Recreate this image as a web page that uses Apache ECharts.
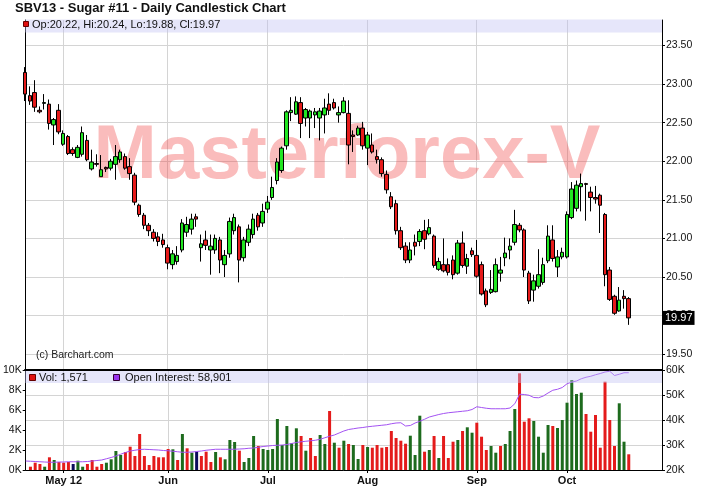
<!DOCTYPE html>
<html><head><meta charset="utf-8">
<script src="https://cdn.jsdelivr.net/npm/echarts/dist/echarts.min.js"></script>
<style>html,body{margin:0;padding:0;background:#fff}#c{width:702px;height:491px}</style>
</head><body><div id="c"></div>
<script>
const FONT = '"Liberation Sans", Arial, sans-serif';
const chartTitle = 'SBV13 - Sugar #11 - Daily Candlestick Chart';
const watermarkText = 'Masterforex-V';
const copyrightText = '(c) Barchart.com';
const monthNames = ['Jan','Feb','Mar','Apr','May','Jun','Jul','Aug','Sep','Oct','Nov','Dec'];
const firstDay = '2012-04-19';
const holidays = ['2012-05-28','2012-07-04','2012-09-03'];
const slotCount = 135;

const opens = [23.15,22.85,22.89,22.66,22.75,22.74,22.47,22.66,22.22,22.32,
 22.15,22.05,22.09,22.27,21.90,21.97,21.80,21.92,21.91,21.96,
 22.02,22.06,21.93,21.82,21.43,21.30,21.17,21.08,21.02,20.98,
 20.88,20.66,20.70,20.85,21.08,21.12,21.28,20.88,20.98,20.85,
 20.85,20.98,20.66,20.80,21.10,21.15,20.75,20.95,21.05,21.30,
 21.20,21.38,21.53,21.75,21.88,22.20,22.63,22.61,22.76,22.56,
 22.56,22.60,22.56,22.60,22.74,22.76,22.60,22.63,22.62,22.34,
 22.34,22.43,22.17,22.21,22.06,22.02,21.83,21.54,21.45,21.10,
 20.90,20.72,20.95,20.96,21.10,21.06,21.03,20.60,20.66,20.66,
 20.72,20.55,20.94,20.64,20.84,20.78,20.66,20.32,20.30,20.31,
 20.55,20.75,20.85,20.95,21.17,21.11,20.55,20.33,20.38,20.43,
 20.71,20.98,20.63,20.76,20.76,21.27,21.39,21.67,21.71,21.60,
 21.53,21.56,21.31,20.59,20.25,20.06,20.25,20.22];
const highs = [23.22,22.97,23.05,22.71,22.87,22.80,22.56,22.74,22.40,22.34,
 22.18,22.21,22.45,22.34,22.15,22.09,22.08,21.93,22.03,22.21,
 22.15,22.10,22.04,21.85,21.45,21.33,21.20,21.12,21.08,21.06,
 20.92,20.85,20.90,21.25,21.28,21.32,21.32,21.05,21.10,21.05,
 21.05,21.02,20.85,21.27,21.32,21.18,21.02,21.18,21.32,21.33,
 21.45,21.55,21.80,22.04,22.19,22.66,22.83,22.84,22.83,22.69,
 22.67,22.69,22.69,22.81,22.88,22.81,22.71,22.83,22.79,22.40,
 22.46,22.51,22.38,22.36,22.15,22.05,21.88,21.60,21.50,21.15,
 20.95,20.95,21.05,21.12,21.24,21.25,21.05,20.75,21.00,20.74,
 20.78,20.98,21.09,20.80,20.88,20.98,20.70,20.35,20.59,20.74,
 20.76,21.01,21.00,21.37,21.20,21.13,20.58,20.53,20.86,20.75,
 21.17,21.17,20.85,20.88,21.35,21.73,21.75,21.84,21.72,21.67,
 21.68,21.58,21.33,20.63,20.27,20.37,20.33,20.24];
const lows = [22.78,22.73,22.64,22.62,22.67,22.41,22.21,22.35,22.20,22.08,
 22.07,22.04,22.06,22.00,21.88,21.93,21.80,21.86,21.88,21.76,
 21.98,21.89,21.76,21.43,21.28,21.12,21.03,20.96,20.90,20.88,
 20.60,20.60,20.66,20.82,21.02,21.05,21.15,20.70,20.85,20.53,
 20.80,20.55,20.50,20.75,21.05,20.43,20.70,20.90,21.00,21.10,
 21.15,21.33,21.50,21.70,21.85,22.15,22.52,22.60,22.30,22.45,
 22.30,22.43,22.27,22.36,22.60,22.67,22.50,22.62,21.96,22.12,
 22.33,22.15,21.95,22.10,21.97,21.80,21.58,21.38,21.05,20.85,
 20.68,20.68,20.78,20.90,20.86,21.04,20.62,20.58,20.56,20.52,
 20.47,20.53,20.62,20.54,20.76,20.49,20.26,20.11,20.28,20.30,
 20.44,20.64,20.73,20.91,21.08,20.50,20.15,20.18,20.35,20.40,
 20.68,20.70,20.50,20.73,20.74,21.25,21.35,21.35,21.23,21.35,
 21.45,21.07,20.38,20.19,20.01,20.05,20.09,19.88];
const closes = [22.87,22.78,22.70,22.64,22.76,22.49,22.54,22.38,22.36,22.10,
 22.10,22.18,22.37,22.02,21.99,21.96,21.89,21.90,22.00,22.06,
 22.12,21.91,21.84,21.47,21.31,21.17,21.10,21.00,20.96,20.92,
 20.68,20.80,20.78,21.20,21.18,21.25,21.25,20.93,20.91,20.90,
 21.00,20.72,20.78,21.22,21.27,20.72,20.98,21.12,21.25,21.15,
 21.35,21.47,21.66,21.99,22.17,22.64,22.66,22.77,22.49,22.67,
 22.65,22.64,22.65,22.69,22.66,22.69,22.63,22.78,22.21,22.32,
 22.43,22.20,22.34,22.12,22.02,21.84,21.63,21.41,21.10,20.88,
 20.72,20.85,20.90,21.09,20.99,21.14,20.65,20.70,20.58,20.56,
 20.53,20.94,20.65,20.74,20.79,20.51,20.28,20.14,20.34,20.66,
 20.59,20.81,20.90,21.18,21.11,20.59,20.19,20.45,20.53,20.66,
 21.03,20.74,20.76,20.82,21.31,21.64,21.69,21.71,21.70,21.53,
 21.51,21.43,20.53,20.21,20.03,20.20,20.22,19.97];
const volumes = [null,330,730,600,330,1270,1000,800,730,800,
 600,930,330,600,1000,330,600,730,1070,1900,
 1500,1800,2330,1400,3600,1400,500,1400,1270,1270,
 2100,2070,1000,3600,2170,1730,1830,1400,1830,800,
 1800,1270,1070,3000,2800,1930,800,1200,3400,2400,
 2100,2000,2100,5100,2500,4400,2670,4170,3400,1930,
 3200,1400,3500,2600,5900,2730,2230,2930,2600,2500,
 1100,2500,2300,2230,2500,2230,2300,3900,3200,2930,
 2630,3430,1500,5430,1830,2000,3400,1200,3400,1200,
 2830,3000,3900,4270,3730,4730,3330,2000,2400,1730,
 2400,2600,3900,6100,9670,4830,5170,4900,3330,1730,
 4500,4400,4200,5000,6730,9000,7600,7730,5600,3830,
 5500,2230,8830,5000,2400,6670,2830,1571];
const openInterest = [23600,23500,23400,23300,23200,23100,23100,23200,23200,23300,
 23300,23300,23300,23400,23600,23800,24000,24500,25000,25600,
 26300,27000,27600,27900,28200,28300,28200,28100,28000,27800,
 27700,27500,27300,27100,27100,27200,27400,27600,27900,28100,
 28300,28300,28300,28300,28300,28400,28500,28700,28800,29100,
 29400,29600,29800,29900,30000,30200,30600,31000,31300,31500,
 31700,31900,32300,32900,33500,34000,34800,35600,36200,36500,
 36800,37000,37300,37500,37700,37900,38100,38500,38800,38900,
 37600,37800,38800,39500,40300,41200,41700,42200,42600,42900,
 43100,43300,43500,43700,44200,45300,45000,44700,44500,44500,
 44500,44500,44800,46500,50300,50200,49900,49000,48900,49600,
 50800,51900,52300,53000,54500,55200,55600,56500,57100,57500,
 58100,58600,59200,59500,57800,58300,58900,58901];

function pad(n){return n<10?'0'+n:''+n;}
const dates = [];
(function(){
  let d = new Date(firstDay + 'T00:00:00Z');
  while (dates.length < slotCount) {
    const s = d.getUTCFullYear()+'-'+pad(d.getUTCMonth()+1)+'-'+pad(d.getUTCDate());
    const wd = d.getUTCDay();
    if (wd !== 0 && wd !== 6 && holidays.indexOf(s) < 0) dates.push(s);
    d = new Date(d.getTime() + 86400000);
  }
})();
const monthStart = dates.map((s,i)=> i>0 && s.slice(5,7) !== dates[i-1].slice(5,7));
const firstLabelIdx = monthStart.indexOf(true);
function tickLabel(i){
  const s = dates[i]; const m = monthNames[+s.slice(5,7)-1];
  return i === firstLabelIdx ? m + ' ' + s.slice(2,4) : m;
}
const UP = '#1d6b1d', DOWN = '#e41b1b', FLAT = '#0b0b5c';
const candleData = opens.map((o,i)=>[o, closes[i], lows[i], highs[i]]);
const volData = volumes.map((v,i)=>{
  if (v == null) return null;
  const c = i===0 ? DOWN : (closes[i] > closes[i-1] ? UP : (closes[i] < closes[i-1] ? DOWN : FLAT));
  return {value: v, itemStyle: {color: c}};
});
const n = closes.length - 1;
const fmtNum = v => v.toLocaleString('en-US');
const priceLegend = 'Op:' + opens[n].toFixed(2) + ', Hi:' + highs[n].toFixed(2) + ', Lo:' + lows[n].toFixed(2) + ', Cl:' + closes[n].toFixed(2);
const volLegend = 'Vol: ' + fmtNum(volumes[n]);
const oiLegend = 'Open Interest: ' + fmtNum(openInterest[n]);

const GRID = '#d4d4d4';
const labelStyle = {fontFamily: FONT, fontSize: 10.5, color: '#111'};
const chart = echarts.init(document.getElementById('c'), null, {renderer: 'canvas'});
chart.setOption({
  animation: false,
  backgroundColor: '#fff',
  grid: [
    {left: 25, right: 40, top: 20, height: 350},
    {left: 25, right: 40, top: 370, height: 100}
  ],
  xAxis: [
    {type: 'category', gridIndex: 0, data: dates, boundaryGap: false,
     axisLine: {show: true, lineStyle: {color: '#000', width: 2}},
     axisTick: {show: false}, axisLabel: {show: false},
     splitLine: {show: true, interval: (i)=>monthStart[i], lineStyle: {color: GRID}}},
    {type: 'category', gridIndex: 1, data: dates, boundaryGap: false,
     axisLine: {show: true, lineStyle: {color: '#000', width: 1}},
     axisTick: {show: true, interval: (i)=>monthStart[i], length: 3, lineStyle: {color: '#000'}},
     axisLabel: {interval: (i)=>monthStart[i], formatter: (v,i)=>tickLabel(i),
       fontFamily: FONT, fontSize: 11, fontWeight: 'bold', color: '#111', margin: 5},
     splitLine: {show: true, interval: (i)=>monthStart[i], lineStyle: {color: GRID}}}
  ],
  yAxis: [
    {type: 'value', gridIndex: 0, position: 'right', min: 19.295, max: 23.83,
     splitNumber: 9, minInterval: 0.5, maxInterval: 0.5,
     axisLine: {show: true, lineStyle: {color: '#000'}},
     axisTick: {show: true, length: 3, lineStyle: {color: '#000'}},
     axisLabel: Object.assign({formatter: v => v.toFixed(2), showMinLabel: false, showMaxLabel: false, margin: 4}, labelStyle),
     splitLine: {show: true, showMinLine: false, showMaxLine: false, lineStyle: {color: GRID}}},
    {type: 'value', gridIndex: 0, position: 'left', min: 19.295, max: 23.83,
     axisLine: {show: true, lineStyle: {color: '#000'}},
     axisTick: {show: false}, axisLabel: {show: false}, splitLine: {show: false}},
    {type: 'value', gridIndex: 1, position: 'left', min: 0, max: 10000, interval: 2000,
     axisLine: {show: true, lineStyle: {color: '#000'}},
     axisTick: {show: true, length: 3, lineStyle: {color: '#000'}},
     axisLabel: Object.assign({formatter: v => (v/1000) + 'K', margin: 4}, labelStyle),
     splitLine: {show: false}},
    {type: 'value', gridIndex: 1, position: 'right', min: 20000, max: 60000, interval: 10000,
     axisLine: {show: true, lineStyle: {color: '#000'}},
     axisTick: {show: true, length: 3, lineStyle: {color: '#000'}},
     axisLabel: Object.assign({formatter: v => (v/1000) + 'K', margin: 4}, labelStyle),
     splitLine: {show: true, showMinLine: false, showMaxLine: false, lineStyle: {color: GRID}}}
  ],
  series: [
    {type: 'candlestick', xAxisIndex: 0, yAxisIndex: 0, data: candleData, barWidth: 4, clip: false,
     itemStyle: {color: '#22e622', color0: '#e61b1b', borderColor: '#000', borderColor0: '#000', borderColorDoji: '#000', borderWidth: 1},
     markLine: {silent: true, symbol: ['none', 'none'], animation: false, z: 10,
       lineStyle: {color: 'rgba(0,0,0,0)', width: 0, type: 'solid'},
       label: {show: true, position: 'end', distance: 1, formatter: () => closes[n].toFixed(2),
         backgroundColor: '#000', color: '#fff', padding: [2, 2, 1, 2], fontFamily: FONT, fontSize: 11},
       emphasis: {disabled: true},
       data: [{yAxis: closes[n]}]}},
    {type: 'bar', xAxisIndex: 1, yAxisIndex: 2, data: volData, barWidth: 3, clip: false},
    {type: 'line', xAxisIndex: 1, yAxisIndex: 3, data: openInterest, symbol: 'none',
     lineStyle: {color: '#a352f2', width: 1}, z: 3}
  ],
  graphic: [
    {type: 'text', x: 15, y: 8.5, z: 60, silent: true,
     style: {text: chartTitle, font: 'bold 13px ' + FONT, fill: '#111', verticalAlign: 'middle'}},
    {type: 'text', x: 347, y: 157, z: 1, silent: true,
     style: {text: watermarkText, font: 'bold 76px ' + FONT, fill: 'rgba(240,70,70,0.36)', align: 'center', verticalAlign: 'middle'}},
    {type: 'rect', z: 50, silent: true, shape: {x: 25, y: 19.5, width: 637, height: 13},
     style: {fill: 'rgba(192,192,242,0.4)'}},
    {type: 'rect', z: 51, silent: true, shape: {x: 23.5, y: 21.5, width: 5, height: 5},
     style: {fill: '#e01010', stroke: '#600', lineWidth: 1}},
    {type: 'text', x: 32, y: 25, z: 51, silent: true,
     style: {text: priceLegend, font: '11px ' + FONT, fill: '#111', verticalAlign: 'middle'}},
    {type: 'rect', z: 50, silent: true, shape: {x: 25, y: 371, width: 637, height: 12},
     style: {fill: 'rgba(192,192,242,0.4)'}},
    {type: 'rect', z: 51, silent: true, shape: {x: 29.5, y: 374.5, width: 6, height: 6},
     style: {fill: '#e01010', stroke: '#600', lineWidth: 1}},
    {type: 'text', x: 39, y: 377.5, z: 51, silent: true,
     style: {text: volLegend, font: '11px ' + FONT, fill: '#111', verticalAlign: 'middle'}},
    {type: 'rect', z: 51, silent: true, shape: {x: 113.5, y: 374.5, width: 6, height: 6},
     style: {fill: '#9933ee', stroke: '#303', lineWidth: 1}},
    {type: 'text', x: 125, y: 377.5, z: 51, silent: true,
     style: {text: oiLegend, font: '11px ' + FONT, fill: '#111', verticalAlign: 'middle'}},
    {type: 'text', x: 36, y: 355, z: 51, silent: true,
     style: {text: copyrightText, font: '10.5px ' + FONT, fill: '#222', verticalAlign: 'middle'}}
  ]
});
</script></body></html>
